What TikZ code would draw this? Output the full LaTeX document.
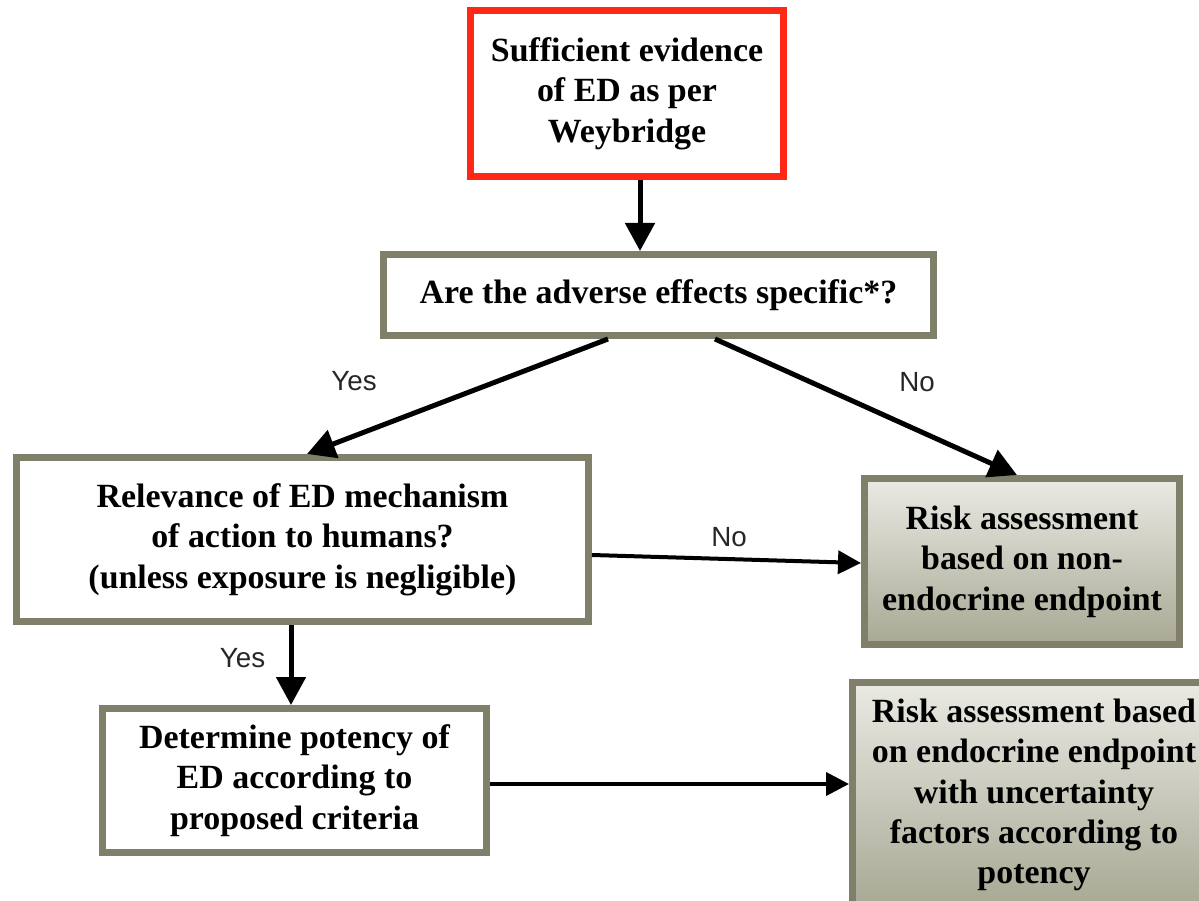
\documentclass[tikz,border=0pt]{standalone}
\usepackage{fontspec}
\setmainfont{Liberation Serif}
\newfontfamily\labelfont{Liberation Sans}
\usepackage{tikz}
\usetikzlibrary{positioning,arrows.meta}
\tikzset{c-box/.style={rectangle, draw=c_edge, line width=0.14cm, fill=white, align=center, inner sep=0pt, font=\bfseries\fontsize{19.3}{23}\selectfont},
c-shaded/.style={c-box, top color=c_top, bottom color=c_bottom},
arrow/.style={line width=0.1cm, -{Triangle[length=0.56cm,width=0.58cm]}},
arrow2/.style={line width=0.08cm, -{Triangle[length=0.46cm,width=0.46cm]}},
lbl/.style={font=\labelfont\fontsize{15.8}{19}\selectfont, text=black!85, inner sep=0pt}}
\definecolor{c_edge}{RGB}{128,128,106}
\definecolor{c_red}{RGB}{255,40,22}
\definecolor{c_top}{RGB}{234,234,228}
\definecolor{c_bottom}{RGB}{168,168,148}

\begin{document}
\begin{tikzpicture}
\useasboundingbox (0,0) rectangle (23.98,-18.02);
\clip (0,0) rectangle (23.98,-18.02);
\node (n0) [c-box, draw=c_red, minimum width=6.26cm, minimum height=3.32cm] at (12.54,-1.87) {Sufficient evidence\\
of ED as per\\
Weybridge
};
\node (nq) [c-box, minimum width=11.0cm, minimum height=1.62cm] at (13.17,-5.90) {Are the adverse effects specific*?};
\node (nrel) [c-box, minimum width=11.44cm, minimum height=3.28cm] at (6.05,-10.79) {Relevance of ED mechanism\\
of action to humans?\\
(unless exposure is negligible)
};
\node (nrisk1) [c-shaded, minimum width=6.3cm, minimum height=3.32cm] at (20.44,-11.23) {Risk assessment\\
based on non-\\
endocrine endpoint
};
\node (npot) [c-box, minimum width=7.68cm, minimum height=2.88cm] at (5.89,-15.61) {Determine potency of\\
ED according to\\
proposed criteria
};
\node (nrisk2) [c-shaded, minimum width=7.26cm, minimum height=4.5cm] at (20.68,-15.90) {Risk assessment based\\
on endocrine endpoint\\
with uncertainty\\
factors according to\\
potency
};
\draw [arrow] ([xshift=0.26cm]n0.south) -- ([xshift=0.26cm]n0.south |- nq.north);
\draw [arrow] ([xshift=-1.01cm]nq.south) -- ([xshift=0.09cm]nrel.north);
\draw [arrow] ([xshift=1.13cm]nq.south) -- ([xshift=-0.1cm]nrisk1.north);
\draw [arrow2] ([yshift=-0.31cm]nrel.east) -- ([yshift=-0.03cm]nrisk1.west);
\draw [arrow] ([xshift=-0.23cm]nrel.south) -- ([xshift=-0.23cm]nrel.south |- npot.north);
\draw [arrow2] ([yshift=-0.07cm]npot.east) -- ([yshift=-0.07cm]npot.east -| nrisk2.west);
\node (yes1) [lbl] at (7.08,-7.62) {Yes};
\node (no1) [lbl] at (18.34,-7.64) {No};
\node (no2) [lbl] at (14.58,-10.74) {No};
\node (yes2) [lbl] at (4.85,-13.16) {Yes};
\end{tikzpicture}
\end{document}
